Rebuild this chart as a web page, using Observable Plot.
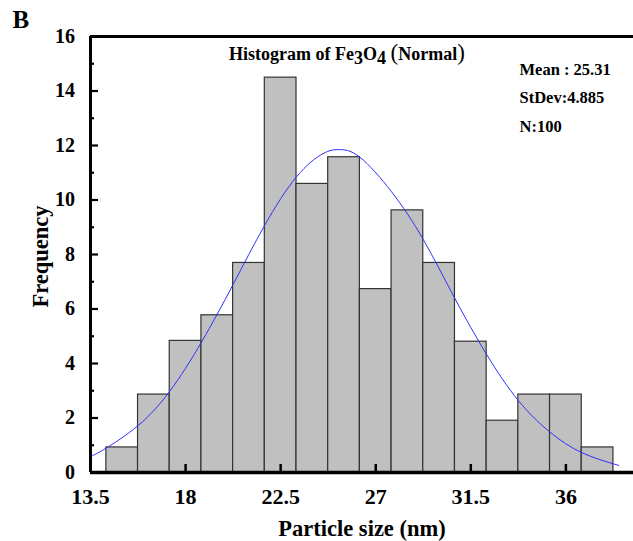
<!DOCTYPE html>
<html>
<head>
<meta charset="utf-8">
<script src="https://cdn.jsdelivr.net/npm/d3@7"></script>
<script src="https://cdn.jsdelivr.net/npm/@observablehq/plot@0.6"></script>
<style>
  html, body { margin: 0; padding: 0; background: #fff; }
</style>
</head>
<body>
<div id="chart"></div>
<script>
// ---- data ----
const binCenters = [15, 16.5, 18, 19.5, 21, 22.5, 24, 25.5, 27, 28.5, 30, 31.5, 33, 34.5, 36, 37.5];
const frequencies = [0.92, 2.86, 4.83, 5.77, 7.69, 14.49, 10.59, 11.57, 6.73, 9.62, 7.69, 4.80, 1.90, 2.86, 2.86, 0.92];
const binWidth = 1.5;

// points
const curveX = [13.6, 14.25, 15.75, 17.25, 18.75, 20.25, 21.75, 23.25, 24.5, 25.3, 26.25, 27.75, 29.25, 30.75, 32.25, 33.75, 35.25, 36.75, 38.5];
const curveY = [0.62, 0.90, 1.72, 2.98, 4.78, 6.90, 9.08, 10.85, 11.70, 11.85, 11.57, 10.30, 8.55, 6.38, 4.33, 2.64, 1.48, 0.73, 0.26];

const xTicks = [13.5, 18, 22.5, 27, 31.5, 36];
const yMajorTicks = [0, 2, 4, 6, 8, 10, 12, 14, 16];
const yMinorTicks = [1, 3, 5, 7, 9, 11, 13, 15];

const statMean = 25.31;
const statStDev = 4.885;
const statN = 100;

// ---- tables built from the arrays ----
const bars = binCenters.map((c, i) => ({x1: c - binWidth / 2, x2: c + binWidth / 2, y: frequencies[i]}));
const curve = curveX.map((x, i) => ({x, y: curveY[i]}));
const statsText = `Mean : ${statMean}\nStDev:${statStDev}\nN:${statN}`;

const font = "Liberation Serif, Times New Roman, serif";

const chart = Plot.plot({
  width: 633,
  height: 541,
  marginLeft: 90,
  marginRight: 0,
  marginTop: 36,
  marginBottom: 69,
  style: {fontFamily: font, fontWeight: "bold", fontSize: "20px", color: "#000", background: "#fff"},
  x: {domain: [13.5, 39.2]},
  y: {domain: [0, 16]},
  marks: [
    Plot.rectY(bars, {x1: "x1", x2: "x2", y1: 0, y2: "y", fill: "#c0c0c0", stroke: "#333", strokeWidth: 1.2}),
    Plot.line(curve, {x: "x", y: "y", stroke: "#3030ff", strokeWidth: 1, curve: "natural"}),
    // frame lines
    Plot.ruleX([13.5], {stroke: "#000", strokeWidth: 3}),
    Plot.ruleY([16], {stroke: "#000", strokeWidth: 3}),
    Plot.ruleY([0], {stroke: "#000", strokeWidth: 3.5}),
    // y axis: inward ticks
    Plot.axisY(yMajorTicks, {anchor: "left", tickSize: -8, tickPadding: 23.5, strokeWidth: 2.2, fontSize: 20, fontWeight: "bold", label: null}),
    Plot.axisY(yMinorTicks, {anchor: "left", tickSize: -4, tickFormat: () => "", strokeWidth: 2.2, label: null}),
    // x axis
    Plot.axisX(xTicks.slice(1), {anchor: "bottom", tickSize: -8, tickFormat: () => "", strokeWidth: 2.5, label: null}),
    Plot.axisX(xTicks, {anchor: "bottom", tickSize: 0, tickPadding: 16, tickFormat: d => String(d), fontSize: 22, fontWeight: "bold", label: null}),
    // titles
    Plot.text(["Frequency"], {frameAnchor: "left", dx: -50, dy: 2, rotate: -90, textAnchor: "middle", lineAnchor: "middle", fontSize: 22.5, fontWeight: "bold"}),
    Plot.text(["Particle size (nm)"], {frameAnchor: "bottom", dx: 0, dy: 63, textAnchor: "middle", lineAnchor: "bottom", fontSize: 22.5, fontWeight: "bold"}),
    Plot.text(["B"], {frameAnchor: "top-left", dx: -78, dy: -26, textAnchor: "start", lineAnchor: "top", fontSize: 25, fontWeight: "bold"}),
    Plot.text(["Histogram of Fe3O4 (Normal)"], {frameAnchor: "top", dx: -15, dy: 11, fontSize: 18, fontWeight: "bold", className: "hist-title"}),
    Plot.text([statsText], {frameAnchor: "top-left", dx: 429, dy: 19, textAnchor: "start", lineAnchor: "top", lineHeight: 1.7, fontSize: 16.5, fontWeight: "bold"})
  ]
});

// rich title with lowered subscripts
const t = chart.querySelector(".hist-title text");
if (t) {
  t.textContent = "";
  const parts = [
    ["Histogram of Fe", 0, null],
    ["3", 4, null],
    ["O", -4, null],
    ["4", 4, null],
    [" ", -4, null],
    ["(", 0, "paren"],
    ["Normal", 0, null],
    [")", 0, "paren"]
  ];
  for (const [s, dy, kind] of parts) {
    const ts = document.createElementNS("http://www.w3.org/2000/svg", "tspan");
    ts.textContent = s;
    if (dy) ts.setAttribute("dy", dy);
    if (kind === "paren") { ts.setAttribute("font-weight", "normal"); ts.setAttribute("font-size", "23"); }
    t.appendChild(ts);
  }
}

document.getElementById("chart").appendChild(chart);
</script>
</body>
</html>
